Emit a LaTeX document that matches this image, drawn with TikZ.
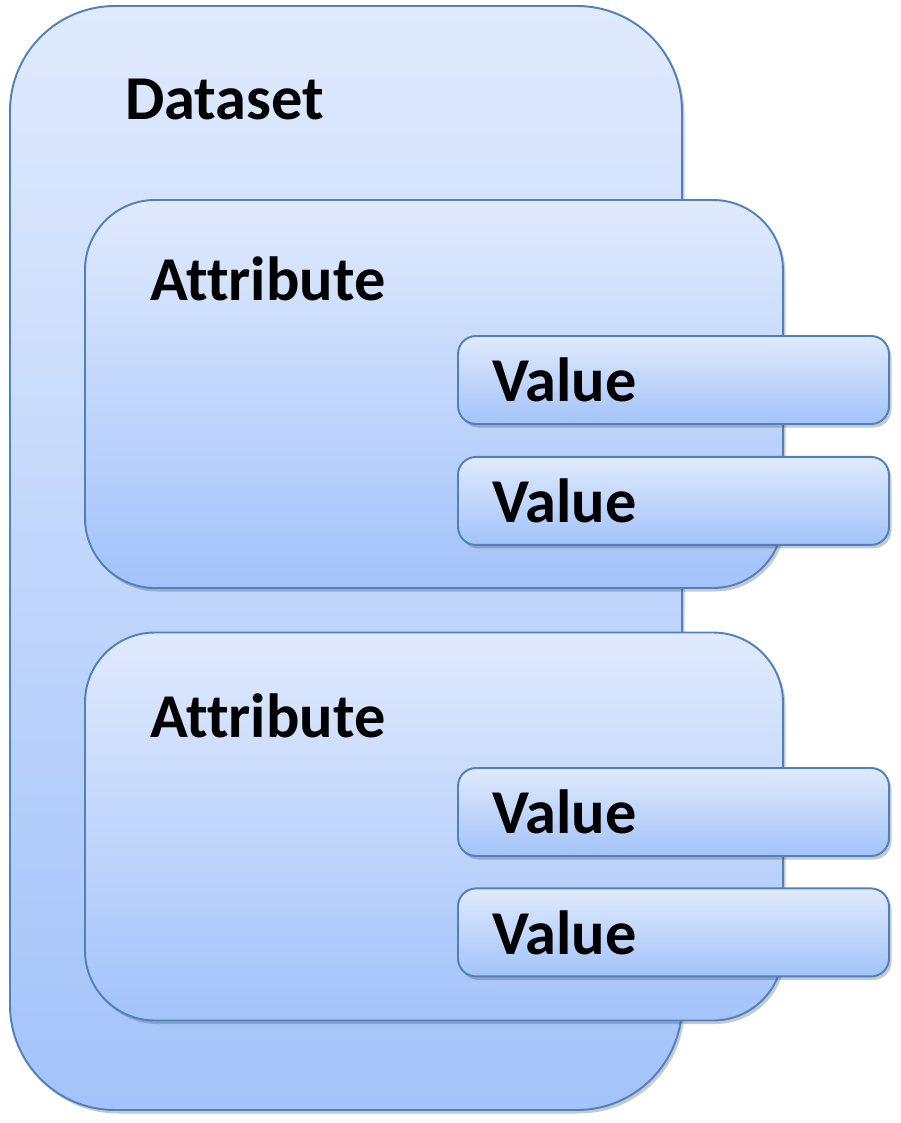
\documentclass[tikz,border=0pt]{standalone}
\usepackage{fontspec}
\setmainfont{Carlito}[Ligatures=NoCommon]
\usetikzlibrary{positioning, shadows}

\definecolor{edgeblue}{RGB}{79,129,189}
\definecolor{topblue}{RGB}{224,234,253}
\definecolor{botblue}{RGB}{163,195,250}

\begin{document}
\begin{tikzpicture}[
  panel/.style={rectangle, draw=edgeblue, line width=1.1pt,
                top color=topblue, bottom color=botblue,
                drop shadow={shadow xshift=0.05cm, shadow yshift=-0.07cm,
                             opacity=0.3, fill=black!70}},
  setbox/.style={panel, rounded corners=2.1cm, minimum width=13.44cm, minimum height=22.08cm},
  attrbox/.style={panel, rounded corners=1.4cm, minimum width=13.96cm, minimum height=7.76cm},
  valbox/.style={panel, rounded corners=0.36cm, minimum width=8.62cm, minimum height=1.76cm,
                 text width=7.26cm, inner xsep=0.68cm, align=left,
                 font=\fontsize{35.5}{40}\selectfont\bfseries},
  title/.style={anchor=base west, inner sep=0pt, font=\fontsize{35.5}{40}\selectfont\bfseries}
]
\useasboundingbox (0,0) rectangle (18,-22.46);

% outer set
\node[setbox] (dataset) at (6.92,-11.16) {};
\node[title] (datasettxt) at (2.5,-2.4) {Dataset};

% first attribute
\node[attrbox] (attra) at (8.68,-7.88) {};
\node[title] (attratxt) at (3.0,-6.0) {Attribute};
\node[valbox] (vala) at (13.47,-7.6) {Value};
\node[valbox, below=0.62cm of vala] (valb) {Value};

% second attribute
\node[attrbox] (attrb) at (8.68,-16.53) {};
\node[title] (attrbtxt) at (3.0,-14.74) {Attribute};
\node[valbox] (valc) at (13.47,-16.24) {Value};
\node[valbox, below=0.61cm of valc] (vald) {Value};

\end{tikzpicture}
\end{document}
